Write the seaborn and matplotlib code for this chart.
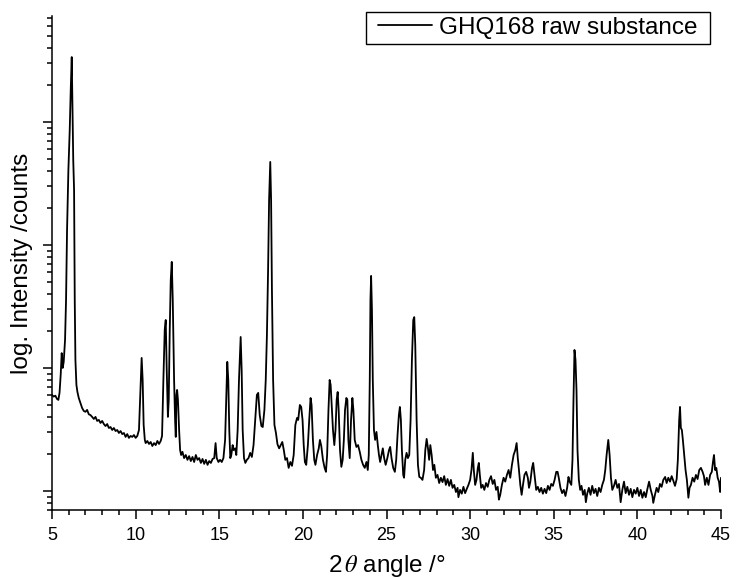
import numpy as np
import pandas as pd
import matplotlib
matplotlib.use("Agg")
import matplotlib.pyplot as plt
import seaborn as sns
from matplotlib.ticker import LogLocator, NullFormatter, MultipleLocator
from matplotlib.legend_handler import HandlerLine2D
from matplotlib.lines import Line2D

# ---- data (2theta in degrees, intensity in counts) ----
two_theta = [
    5.00, 5.10, 5.20, 5.30, 5.38, 5.45, 5.52, 5.58, 5.64, 5.70, 5.78, 5.84, 5.90, 5.98,
    6.06, 6.12, 6.18, 6.22, 6.27, 6.32, 6.36, 6.40, 6.46, 6.52, 6.60, 6.70, 6.80, 6.90,
    7.00, 7.10, 7.20, 7.30, 7.40, 7.50, 7.60, 7.70, 7.80, 7.90, 8.00, 8.10, 8.20, 8.30,
    8.40, 8.50, 8.60, 8.70, 8.80, 8.90, 9.00, 9.10, 9.20, 9.30, 9.40, 9.50, 9.60, 9.70,
    9.80, 9.90, 10.00, 10.10, 10.20, 10.28, 10.36, 10.42, 10.48, 10.55, 10.60, 10.70,
    10.80, 10.90, 11.00, 11.10, 11.20, 11.30, 11.40, 11.50, 11.58, 11.66, 11.74, 11.80,
    11.86, 11.93, 11.98, 12.04, 12.10, 12.16, 12.22, 12.30, 12.36, 12.40, 12.44, 12.48,
    12.53, 12.60, 12.66, 12.72, 12.80, 12.90, 13.00, 13.10, 13.20, 13.30, 13.40, 13.50,
    13.60, 13.70, 13.80, 13.90, 14.00, 14.10, 14.20, 14.30, 14.40, 14.50, 14.60, 14.70,
    14.78, 14.85, 14.95, 15.05, 15.15, 15.25, 15.35, 15.42, 15.48, 15.54, 15.60, 15.66,
    15.72, 15.80, 15.86, 15.95, 16.02, 16.10, 16.18, 16.28, 16.34, 16.40, 16.48, 16.56,
    16.65, 16.75, 16.85, 16.95, 17.05, 17.15, 17.25, 17.33, 17.42, 17.52, 17.60, 17.70,
    17.78, 17.85, 17.92, 17.98, 18.05, 18.10, 18.15, 18.22, 18.30, 18.39, 18.48, 18.58,
    18.68, 18.77, 18.86, 18.95, 19.05, 19.15, 19.25, 19.35, 19.45, 19.55, 19.65, 19.72,
    19.82, 19.90, 19.98, 20.05, 20.12, 20.20, 20.30, 20.38, 20.46, 20.52, 20.60, 20.68,
    20.75, 20.85, 20.95, 21.02, 21.10, 21.20, 21.30, 21.38, 21.45, 21.53, 21.60, 21.66,
    21.72, 21.80, 21.88, 21.95, 22.02, 22.08, 22.14, 22.22, 22.30, 22.38, 22.45, 22.52,
    22.60, 22.66, 22.72, 22.80, 22.88, 22.96, 23.02, 23.10, 23.20, 23.30, 23.40, 23.50,
    23.60, 23.70, 23.80, 23.88, 23.94, 24.00, 24.04, 24.08, 24.13, 24.18, 24.25, 24.32,
    24.40, 24.48, 24.55, 24.62, 24.70, 24.78, 24.86, 24.95, 25.05, 25.15, 25.22, 25.30,
    25.40, 25.50, 25.58, 25.66, 25.74, 25.80, 25.86, 25.92, 26.00, 26.05, 26.12, 26.20,
    26.28, 26.36, 26.44, 26.52, 26.60, 26.66, 26.72, 26.80, 26.88, 26.96, 27.05, 27.15,
    27.25, 27.32, 27.40, 27.48, 27.55, 27.62, 27.70, 27.78, 27.86, 27.95, 28.05, 28.15,
    28.25, 28.35, 28.45, 28.55, 28.65, 28.75, 28.85, 28.95, 29.05, 29.15, 29.25, 29.30,
    29.40, 29.50, 29.60, 29.70, 29.80, 29.90, 30.00, 30.08, 30.16, 30.22, 30.30, 30.38,
    30.46, 30.52, 30.58, 30.66, 30.75, 30.85, 30.95, 31.05, 31.15, 31.25, 31.35, 31.45,
    31.55, 31.65, 31.72, 31.80, 31.90, 32.00, 32.10, 32.20, 32.30, 32.40, 32.50, 32.60,
    32.70, 32.78, 32.85, 32.92, 33.00, 33.08, 33.16, 33.25, 33.35, 33.45, 33.52, 33.60,
    33.70, 33.77, 33.85, 33.95, 34.05, 34.15, 34.25, 34.35, 34.45, 34.55, 34.65, 34.75,
    34.85, 34.95, 35.05, 35.15, 35.23, 35.30, 35.40, 35.50, 35.60, 35.70, 35.80, 35.88,
    35.95, 36.05, 36.12, 36.18, 36.24, 36.30, 36.36, 36.42, 36.50, 36.58, 36.66, 36.75,
    36.85, 36.92, 37.00, 37.10, 37.20, 37.30, 37.40, 37.50, 37.60, 37.70, 37.80, 37.90,
    38.00, 38.08, 38.16, 38.26, 38.34, 38.42, 38.50, 38.60, 38.70, 38.80, 38.90, 39.00,
    39.10, 39.20, 39.30, 39.40, 39.50, 39.60, 39.70, 39.80, 39.90, 40.00, 40.10, 40.20,
    40.30, 40.40, 40.50, 40.60, 40.70, 40.80, 40.90, 40.95, 41.05, 41.15, 41.25, 41.35,
    41.45, 41.55, 41.66, 41.75, 41.85, 41.95, 42.05, 42.15, 42.25, 42.35, 42.42, 42.50,
    42.55, 42.60, 42.66, 42.72, 42.80, 42.88, 42.96, 43.05, 43.12, 43.20, 43.30, 43.40,
    43.50, 43.60, 43.70, 43.80, 43.90, 43.98, 44.05, 44.15, 44.25, 44.35, 44.45, 44.52,
    44.58, 44.65, 44.72, 44.80, 44.88, 44.95, 45.00,
]

counts = [
    604, 585, 595, 560, 550, 627, 880, 1320, 1000, 1120, 1690, 3570, 13240, 40700,
    86000, 182000, 337000, 151000, 49000, 28000, 3570, 1162, 728, 638, 570, 519, 473, 447,
    440, 456, 420, 414, 400, 385, 400, 371, 378, 357, 371, 350, 337, 350,
    325, 331, 313, 325, 307, 313, 296, 307, 290, 296, 275, 290, 270, 280,
    275, 285, 270, 280, 313, 604, 1206, 800, 344, 260, 245, 255,
    241, 250, 232, 245, 236, 255, 241, 255, 280, 800, 2040, 2455,
    964, 400, 550, 2040, 5190, 7280, 3570, 800, 378, 275, 604, 663,
    550, 313, 215, 196, 208, 185, 196, 179, 192, 175, 189, 172,
    196, 179, 185, 169, 182, 166, 179, 163, 175, 169, 182, 185,
    245, 185, 172, 179, 172, 185, 260, 550, 1120, 800, 313, 185,
    196, 236, 215, 222, 196, 313, 800, 1786, 964, 313, 185, 169,
    179, 185, 204, 189, 236, 378, 604, 627, 414, 337, 331, 456,
    800, 1853, 6270, 23200, 47300, 23200, 4300, 800, 344, 296, 240, 222,
    236, 250, 215, 179, 185, 154, 172, 160, 196, 344, 392, 378,
    500, 482, 378, 236, 172, 163, 236, 378, 570, 500, 260, 179,
    163, 196, 222, 260, 232, 179, 154, 143, 196, 456, 799, 728,
    500, 313, 236, 313, 550, 638, 456, 215, 157, 179, 260, 456,
    570, 550, 260, 185, 378, 570, 456, 260, 228, 236, 208, 179,
    163, 154, 172, 148, 196, 799, 3570, 5600, 2970, 800, 313, 260,
    302, 236, 196, 172, 196, 222, 185, 163, 185, 215, 228, 185,
    154, 143, 179, 285, 414, 482, 378, 215, 135, 128, 179, 204,
    185, 196, 378, 1162, 2455, 2590, 1537, 378, 163, 130, 128, 123,
    148, 215, 265, 222, 179, 236, 196, 148, 163, 128, 135, 116,
    128, 118, 132, 112, 125, 110, 123, 106, 112, 98, 106, 89,
    102, 95, 108, 96, 104, 112, 123, 148, 204, 148, 112, 123,
    154, 169, 135, 106, 112, 102, 116, 108, 123, 132, 114, 123,
    102, 108, 85, 93, 112, 128, 119, 135, 148, 128, 163, 196,
    215, 245, 185, 148, 112, 93, 112, 135, 143, 128, 106, 119,
    154, 169, 135, 102, 108, 98, 106, 95, 104, 96, 110, 102,
    114, 110, 123, 143, 143, 128, 106, 96, 102, 91, 106, 130,
    119, 112, 179, 550, 1400, 1162, 663, 215, 123, 102, 110, 93,
    102, 81, 95, 106, 93, 110, 96, 104, 91, 106, 98, 112,
    123, 148, 196, 260, 196, 128, 102, 110, 123, 106, 114, 81,
    102, 119, 96, 108, 93, 104, 89, 102, 95, 106, 91, 102,
    88, 98, 89, 104, 119, 102, 91, 80, 93, 106, 98, 114,
    108, 123, 130, 116, 128, 119, 132, 121, 110, 125, 179, 378,
    482, 325, 313, 260, 196, 148, 123, 88, 106, 112, 128, 119,
    135, 125, 148, 154, 143, 132, 112, 128, 112, 135, 143, 172,
    196, 148, 154, 128, 119, 98, 128,
]

series_label = "GHQ168 raw substance"
x_ticks = [5, 10, 15, 20, 25, 30, 35, 40, 45]
x_label = r"2$\,\theta$ angle /°"
y_label = "log. Intensity /counts"

# ---- styling ----
sns.set_theme(style="ticks")
plt.rcParams["font.family"] = ["Liberation Sans", "DejaVu Sans"]
plt.rcParams["mathtext.fontset"] = "stix"
for k in ["text.color", "axes.labelcolor", "xtick.color", "ytick.color", "axes.edgecolor"]:
    plt.rcParams[k] = "black"

W, H = 736, 578
fig = plt.figure(figsize=(W / 100, H / 100), dpi=100)
ax = fig.add_axes([52 / W, 1 - 510 / H, (721 - 52) / W, (510 - 16) / H])

df = pd.DataFrame({"two_theta": two_theta, "counts": counts})
sns.lineplot(data=df, x="two_theta", y="counts", ax=ax, color="black",
             linewidth=1.3, estimator=None, sort=False, label=series_label)

ax.set_yscale("log")
ax.set_xlim(5, 45)
ax.set_ylim(70, 7.27e5)

ax.set_xticks(x_ticks)
ax.xaxis.set_minor_locator(MultipleLocator(1))
ax.yaxis.set_major_locator(LogLocator(base=10))
ax.yaxis.set_minor_locator(LogLocator(base=10, subs=np.arange(2, 10)))
ax.yaxis.set_major_formatter(NullFormatter())
ax.yaxis.set_minor_formatter(NullFormatter())

ax.tick_params(which="major", direction="out", length=6.5, width=1.1, labelsize=13, pad=6)
ax.tick_params(which="minor", direction="out", length=3.6, width=1.1)

sns.despine(ax=ax)
for s in ["left", "bottom"]:
    ax.spines[s].set_linewidth(1.1)
    ax.spines[s].set_color("black")

ax.set_xlabel(x_label, fontsize=17.5, labelpad=6)
ax.set_ylabel(y_label, fontsize=17.5, labelpad=1)

leg = ax.legend(loc="upper left",
                bbox_to_anchor=(366 / W, 1 - 43 / H, 344 / W, 31 / H),
                bbox_transform=fig.transFigure, mode="expand", borderaxespad=0,
                frameon=True, fancybox=False, edgecolor="black", framealpha=1,
                fontsize=17.5, handlelength=2.5, handletextpad=0.3, borderpad=0.2,
                handler_map={Line2D: HandlerLine2D(xpad=0.29)})
leg.get_frame().set_linewidth(1.0)

fig.savefig("out.png", dpi=100)
